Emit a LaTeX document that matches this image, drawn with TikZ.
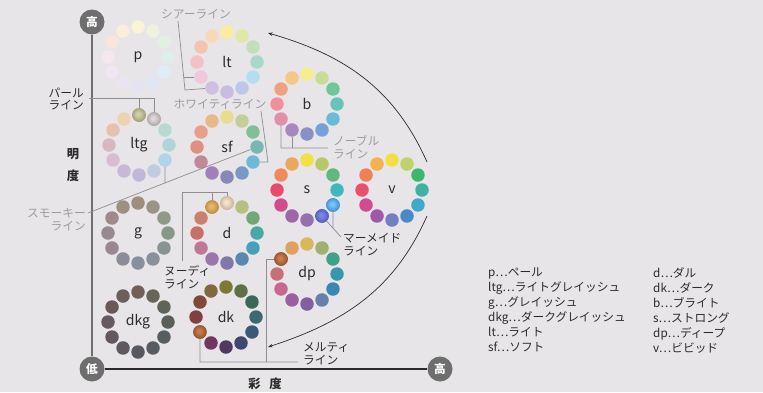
\documentclass[tikz,border=0pt]{standalone}
\usepackage{fontspec}
\setmainfont{Noto Sans CJK JP}
\usetikzlibrary{arrows.meta}

\definecolor{paper}{HTML}{E7E5E8}
\definecolor{ink}{HTML}{2B2B2B}
\definecolor{inklight}{HTML}{9C9C9C}
\definecolor{guidegray}{HTML}{8E8E8E}
\definecolor{axisgray}{HTML}{6E6E6E}
\definecolor{pearlin}{HTML}{FFFFFF}
\definecolor{pearlout}{HTML}{000000}
\pgfdeclareradialshading[pearlin,pearlout]{pearl}{\pgfpoint{-4bp}{4bp}}{%
  color(0bp)=(pearlin); color(6bp)=(pearlin); color(44bp)=(pearlout); color(50bp)=(pearlout)}

% 色调环: 名称, x, y, 12个颜色 (从上方顺时针)
\newcommand{\tonering}[4]{%
  \node[tone] (#1) at (#2,#3) {#1};
  \foreach \c [count=\i from 0] in {#4} {
    \definecolor{dotcol}{HTML}{\c}
    \node[dot, fill=dotcol] (#1-\i) at ({#2+30*cos(-90+30*\i)},{#3+30*sin(-90+30*\i)}) {};
  }%
}

\begin{document}
\begin{tikzpicture}[
    x=0.03cm, y=-0.03cm,
    dot/.style={circle, inner sep=0pt, minimum size=0.405cm},
    shiny/.style 2 args={dot, shading=pearl,
        /utils/exec={\definecolor{pearlin}{HTML}{#1}\definecolor{pearlout}{HTML}{#2}}},
    tone/.style={font=\fontsize{12}{14}\selectfont, text=ink, inner sep=0pt},
    tag/.style={font=\fontsize{10}{11}\selectfont, text=ink, inner sep=0pt},
    tagpale/.style={tag, text=inklight},
    guide/.style={draw=guidegray, line width=0.6pt},
    pole/.style={circle, fill=axisgray, text=white, minimum size=0.75cm, inner sep=0pt,
        font=\bfseries\fontsize{10}{10}\selectfont},
    >={Stealth[length=4pt, width=3pt]}
]
    % 背景
    \path[use as bounding box, fill=paper] (0,0) rectangle (763,392);

    % 1. 色调环
    \tonering{p}{138}{57}{FAF3D6,EEF2DE,E2F0E4,DCF0EA,DDEEF6,E1E6F4,E3E3F2,E9E3F2,EFE6F2,F6E6EE,F9E5DC,FAEEDA}
    \tonering{lt}{227}{62}{F8EDA0,E0E8A8,C0E0BC,A8D8C8,B4DEF0,BCC8E8,C8BCE0,D0C0E0,F0C8DC,F5C0C4,F5C4B0,F8D8B8}
    \tonering{b}{307}{104}{F8EC90,C8DC98,6CC898,68C4B8,68BCD8,78A0D8,8890C8,A888C0,E090A8,F09098,F0A080,F5C888}
    \tonering{ltg}{139}{145}{8C8A58,9A9090,B8D8D0,B0D4D8,B0D4E8,C0CCE0,C0B8D8,C8B8D8,D8BCD0,D8B8C0,E8C0B0,ECD4B0}
    \tonering{sf}{227}{147}{E8DC90,C0D098,80C098,78B8B0,70B8D8,7898C8,8888B8,A080B8,C08898,E09080,E8A088,E8B888}
    \tonering{s}{307}{190}{F2E044,B8C868,60B880,40B8C0,1C80D0,3C4CA8,9470B0,A064A8,D24C8C,E84A68,F08A5C,EBA85C}
    \tonering{v}{392}{190}{F5DE45,BCD46A,3CB86C,40B0A0,40A8C8,4A88C8,7080C0,A058A8,D04C90,E8506C,F08058,F5B050}
    \tonering{g}{138}{233}{9E8E80,9A9488,909888,889888,889490,88909A,8890A0,8C8C98,988890,988890,9E8A88,9E9080}
    \tonering{d}{227}{233}{C8A880,B8C080,70A878,48A8A8,48A0B8,5888B0,8078A8,9878A8,C07898,C87068,C88070,C08838}
    \tonering{dp}{307}{274}{D8B858,A0B070,40A088,3898A8,3888B0,6880A8,8060A0,9860A0,C86890,C87078,904020,E0A060}
    \tonering{dkg}{138}{322}{706058,686458,606458,586058,585E60,585C60,585860,5E5860,645860,685860,6A5858,6C5E58}
    \tonering{dk}{226}{317}{7C7838,5E7048,3C6858,3C6870,3C5878,404870,503860,703860,804020,804040,804838,806840}

    % 2. 珠光色点
    \node[shiny={CFCFA8}{77753F}] (ltg-0) at (ltg-0) {};
    \node[shiny={E0D8D8}{857B7B}] (ltg-1) at (ltg-1) {};
    \node[shiny={78C4FA}{0F5EB6}] (s-4) at (s-4) {};
    \node[shiny={7888E4}{263894}] (s-5) at (s-5) {};
    \node[shiny={F2E4CC}{A68A66}] (d-0) at (d-0) {};
    \node[shiny={E4B868}{9C6420}] (d-11) at (d-11) {};
    \node[shiny={CC7E4C}{662A0E}] (dp-10) at (dp-10) {};
    \node[shiny={C67C4C}{662A0E}] (dk-8) at (dk-8) {};

    % 3. 坐标轴
    \node[pole] (hi-l) at (92,22) {高};
    \node[pole] (lo) at (92,369) {低};
    \node[pole] (hi-c) at (440,369) {高};
    \draw[axisgray, line width=1pt] (hi-l) -- (lo);
    \draw[ink, line width=1pt] (lo) -- (hi-c);
    \node[font=\bfseries\fontsize{10.5}{19}\selectfont, align=center, text=ink] (lightness) at (73,165) {明\\度};
    \node[font=\bfseries\fontsize{10.5}{12}\selectfont, text=ink] (chroma) at (265,384) {彩\hspace{0.7em}度};

    % 4. シアーライン
    \node[tagpale] (sheer) at (196,14) {シアーライン};
    \coordinate (sheer-a) at (178,21);
    \coordinate (sheer-j) at (184,77);
    \coordinate (sheer-k) at (185,90);
    \draw[guide] (sheer-a) -- (sheer-k) -- (lt-7);
    \draw[guide] (sheer-j) -- (lt-8);

    % 5. ホワイティライン
    \node[tagpale] (whity) at (220,104) {ホワイティライン};
    \coordinate (whity-a) at (261,111);
    \coordinate (whity-k) at (268,162);
    \draw[guide] (whity-a) -- (whity-k) -- (sf-4);

    % 6. パールライン
    \node[tag, align=right, anchor=east] (pearl) at (84,99) {パール\\ライン};
    \coordinate (pearl-a) at (89,98);
    \coordinate (pearl-k) at (154,98);
    \draw[guide] (pearl-a) -- (pearl-k) -- (ltg-1);
    \draw[guide] (ltg-0 |- pearl-k) -- (ltg-0);

    % 7. スモーキーライン
    \node[tagpale, align=right, anchor=east] (smoky) at (86,220) {スモーキー\\ライン};
    \coordinate (smoky-a) at (88,213);
    \coordinate (smoky-j) at (165,183);
    \draw[guide] (smoky-a) -- (sf-3);
    \draw[guide] (ltg-4) -- (smoky-j);

    % 8. ノーブルライン
    \node[tagpale, align=left, anchor=west] (noble) at (333,147) {ノーブル\\ライン};
    \coordinate (noble-k) at (281,148);
    \coordinate (noble-e) at (328,148);
    \draw[guide] (b-8) -- (noble-k) -- (noble-e);
    \draw[guide] (b-7) -- (b-7 |- noble-k);

    % 9. ヌーディライン
    \node[tag, align=left, anchor=west] (nudie) at (164,277) {ヌーディ\\ライン};
    \coordinate (nudie-a) at (182,261);
    \coordinate (nudie-k) at (182,192);
    \draw[guide] (nudie-a) -- (nudie-k) -- (d-0 |- nudie-k) -- (d-0);
    \draw[guide] (d-11 |- nudie-k) -- (d-11);

    % 10. マーメイドライン
    \node[tag, align=left, anchor=west] (mermaid) at (343,245) {マーメイド\\ライン};
    \coordinate (mermaid-j) at (333,228);
    \coordinate (mermaid-a) at (341,237);
    \draw[guide] (s-5) -- (mermaid-a);
    \draw[guide] (s-4) -- (mermaid-j);

    % 11. メルティライン
    \node[tag, align=left, anchor=west] (melty) at (303,354) {メルティ\\ライン};
    \coordinate (melty-k) at (200,362);
    \coordinate (melty-e) at (298,362);
    \coordinate (melty-t) at (266,259);
    \draw[guide] (dk-8) -- (melty-k) -- (melty-e);
    \draw[guide] (dp-10) -- (melty-t) -- (melty-t |- melty-k);

    % 12. 右侧弧形箭头
    \coordinate (arc-a) at (427,162);
    \coordinate (arc-b) at (268,33);
    \coordinate (arc-c) at (427,216);
    \coordinate (arc-d) at (268,347);
    \draw[->, ink, line width=0.6pt] (arc-a) to[out=114, in=-16] (arc-b);
    \draw[->, ink, line width=0.6pt] (arc-c) to[out=-114, in=18] (arc-d);

    % 13. 图例
    \node[tag, font=\fontsize{10}{12.9}\selectfont, align=left, anchor=north west] (key-a) at (488,267)
        {p…ペール\\ltg…ライトグレイッシュ\\g…グレイッシュ\\dkg…ダークグレイッシュ\\lt…ライト\\sf…ソフト};
    \node[tag, font=\fontsize{10}{12.9}\selectfont, align=left, anchor=north west] (key-b) at (653,267)
        {d…ダル\\dk…ダーク\\b…ブライト\\s…ストロング\\dp…ディープ\\v…ビビッド};
\end{tikzpicture}
\end{document}
